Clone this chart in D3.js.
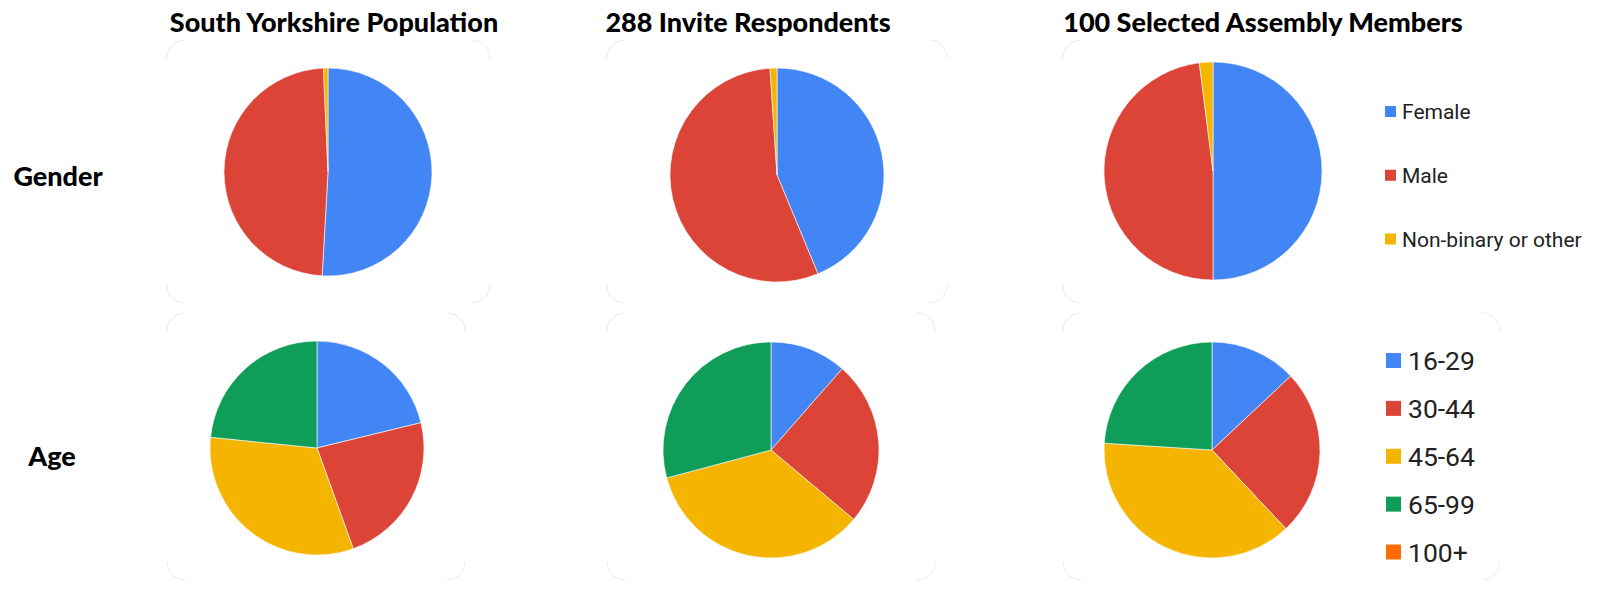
<!DOCTYPE html>
<html>
<head>
<meta charset="utf-8">
<script src="https://cdn.jsdelivr.net/npm/d3@7"></script>
<style>
  html, body { margin: 0; padding: 0; background: #fff; }
  svg { display: block; }
</style>
</head>
<body>
<svg id="chart" width="1618" height="598"></svg>
<script>
// ---- data ----
const columnTitles = ["South Yorkshire Population", "288 Invite Respondents", "100 Selected Assembly Members"];
const rowLabels = ["Gender", "Age"];

const genderCategories = ["Female", "Male", "Non-binary or other"];
const genderPopulation = [50.9, 48.4, 0.7];
const genderRespondents = [126, 159, 3];
const genderMembers = [50, 48, 2];

const ageCategories = ["16-29", "30-44", "45-64", "65-99", "100+"];
const agePopulation = [21.2, 23.3, 32.1, 23.4, 0];
const ageRespondents = [33, 71, 100, 84, 0];
const ageMembers = [13, 25, 38, 24, 0];

// ---- styles / layout ----
const palette = ["#4285F4", "#DB4437", "#F4B400", "#0F9D58", "#FF6D00"];
const svg = d3.select("#chart");

const pies = [
  {values: genderPopulation, cats: genderCategories, cx: 328, cy: 172, r: 104},
  {values: genderRespondents, cats: genderCategories, cx: 777, cy: 175, r: 107},
  {values: genderMembers, cats: genderCategories, cx: 1213, cy: 171, r: 109},
  {values: agePopulation, cats: ageCategories, cx: 317, cy: 448, r: 107},
  {values: ageRespondents, cats: ageCategories, cx: 771, cy: 450, r: 108},
  {values: ageMembers, cats: ageCategories, cx: 1212, cy: 450, r: 108}
];

const panels = [
  {x0: 167, x1: 490, y0: 40, y1: 303},
  {x0: 607, x1: 947, y0: 40, y1: 303},
  {x0: 1063, x1: 1700, y0: 40, y1: 303},
  {x0: 167, x1: 465, y0: 313, y1: 580},
  {x0: 607, x1: 935, y0: 313, y1: 580},
  {x0: 1063, x1: 1500, y0: 313, y1: 580}
];

// faint panel corner arcs
const cr = 18;
panels.forEach(p => {
  const corners = [
    `M${p.x0},${p.y0 + cr} A${cr},${cr} 0 0 1 ${p.x0 + cr},${p.y0}`,
    `M${p.x1 - cr},${p.y0} A${cr},${cr} 0 0 1 ${p.x1},${p.y0 + cr}`,
    `M${p.x1},${p.y1 - cr} A${cr},${cr} 0 0 1 ${p.x1 - cr},${p.y1}`,
    `M${p.x0 + cr},${p.y1} A${cr},${cr} 0 0 1 ${p.x0},${p.y1 - cr}`
  ];
  corners.forEach(d => svg.append("path").attr("d", d)
    .attr("fill", "none").attr("stroke", "#e2e2e2").attr("stroke-width", 0.8));
});

const pieGen = d3.pie().sort(null).value(d => d.v);

pies.forEach(p => {
  const c = d3.scaleOrdinal().domain(p.cats).range(palette);
  const arc = d3.arc().innerRadius(0).outerRadius(p.r);
  const g = svg.append("g").attr("transform", `translate(${p.cx},${p.cy})`);
  const data = p.cats.map((k, i) => ({k, v: p.values[i]}));
  g.selectAll("path").data(pieGen(data).filter(d => d.data.v > 0)).join("path")
    .attr("d", arc)
    .attr("fill", d => c(d.data.k))
    .attr("stroke", "#fff").attr("stroke-width", 0.6);
});

// column titles
const titleX = [334, 748, 1263];
svg.selectAll("text.title").data(columnTitles).join("text")
  .attr("class", "title")
  .attr("x", (d, i) => titleX[i]).attr("y", 32)
  .attr("text-anchor", "middle")
  .attr("font-family", "Lato, 'Open Sans', sans-serif")
  .attr("font-weight", 900).attr("font-size", 27)
  .attr("fill", "#000")
  .text(d => d);

// row labels
const rowPos = [{x: 58, y: 186}, {x: 52, y: 466}];
svg.selectAll("text.row").data(rowLabels).join("text")
  .attr("class", "row")
  .attr("x", (d, i) => rowPos[i].x).attr("y", (d, i) => rowPos[i].y)
  .attr("text-anchor", "middle")
  .attr("font-family", "Lato, 'Open Sans', sans-serif")
  .attr("font-weight", 900).attr("font-size", 27)
  .attr("fill", "#000")
  .text(d => d);

// gender legend
const gLeg = svg.append("g");
const gy = d3.scalePoint().domain(genderCategories).range([111.5, 239]);
const gc = d3.scaleOrdinal().domain(genderCategories).range(palette);
genderCategories.forEach(k => {
  gLeg.append("rect").attr("x", 1385).attr("y", gy(k) - 5.5).attr("width", 11).attr("height", 11).attr("fill", gc(k));
  gLeg.append("text").attr("x", 1402).attr("y", gy(k)).attr("dy", "0.36em")
    .attr("font-family", "Roboto, sans-serif").attr("font-size", 21).attr("fill", "#222").text(k);
});

// age legend
const aLeg = svg.append("g");
const ay = d3.scalePoint().domain(ageCategories).range([360.5, 552]);
const ac = d3.scaleOrdinal().domain(ageCategories).range(palette);
ageCategories.forEach(k => {
  aLeg.append("rect").attr("x", 1386).attr("y", ay(k) - 7.5).attr("width", 15).attr("height", 15).attr("fill", ac(k));
  aLeg.append("text").attr("x", 1408).attr("y", ay(k)).attr("dy", "0.36em")
    .attr("font-family", "Roboto, sans-serif").attr("font-size", 26.5).attr("fill", "#222").text(k);
});
</script>
</body>
</html>
